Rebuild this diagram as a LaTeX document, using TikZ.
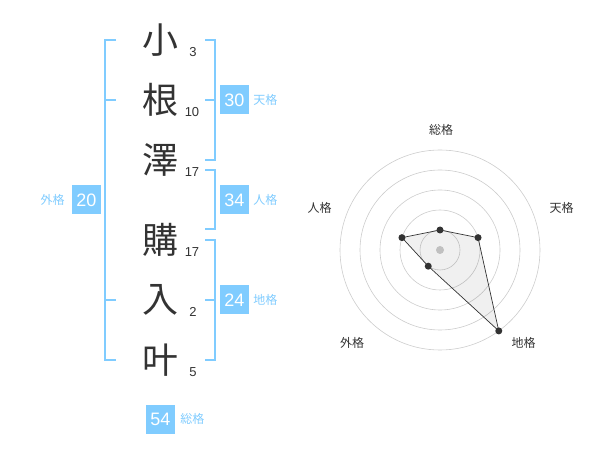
\documentclass[tikz,border=0pt]{standalone}
\usepackage{fontspec}
\setmainfont{Liberation Sans}
\newfontfamily\jp{Noto Sans CJK JP}
\usepackage{tikz}
\usetikzlibrary{positioning}
\definecolor{skyblue}{HTML}{80CCFF}
\definecolor{ink}{HTML}{333333}
\definecolor{ringgray}{HTML}{CCCCCC}

\begin{document}
\begin{tikzpicture}[x=1pt, y=-1pt,
	kanji/.style={font=\jp\fontsize{36}{36}\selectfont, text=ink, inner sep=0pt},
	strokes/.style={font=\fontsize{13}{13}\selectfont, text=ink, inner sep=0pt},
	bracket/.style={draw=skyblue, line width=2pt},
	valbox/.style={fill=skyblue, text=white, minimum size=29pt, inner sep=0pt, font=\fontsize{18}{18}\selectfont},
	vallabel/.style={text=skyblue, inner sep=0pt, font=\jp\fontsize{12}{12}\selectfont},
	ringline/.style={draw=ringgray, line width=0.6pt},
	axislabel/.style={text=ink, inner sep=0pt, font=\jp\fontsize{12}{12}\selectfont},
	dot/.style={circle, fill=ink, inner sep=0pt, minimum size=7pt}]
		\useasboundingbox (0,0) rectangle (600,470);
		% name characters and stroke counts
		\node[kanji] (c1) at (160,40) {小};
		\node[strokes] (n1) at (193,52) {3};
		\node[kanji] (c2) at (160,100) {根};
		\node[strokes] (n2) at (192,112) {10};
		\node[kanji] (c3) at (160,160) {澤};
		\node[strokes] (n3) at (192,172) {17};
		\node[kanji] (c4) at (160,240) {購};
		\node[strokes] (n4) at (192,252) {17};
		\node[kanji] (c5) at (160,300) {入};
		\node[strokes] (n5) at (193,312) {2};
		\node[kanji] (c6) at (160,360) {叶};
		\node[strokes] (n6) at (193,372) {5};
		% brackets
		\draw[bracket] (116,40) -- (105,40) -- (105,360) -- (116,360);
		\draw[bracket] (105,100) -- (116,100);
		\draw[bracket] (105,300) -- (116,300);
		\draw[bracket] (205,40) -- (215,40) -- (215,160) -- (205,160);
		\draw[bracket] (205,100) -- (215,100);
		\draw[bracket] (205,170) -- (215,170) -- (215,229) -- (205,229);
		\draw[bracket] (205,240) -- (215,240) -- (215,360) -- (205,360);
		\draw[bracket] (205,300) -- (215,300);
		% values
		\node[valbox] (ten) at (234.5,100) {30};
		\node[vallabel, right=4pt of ten] (tenl) {天格};
		\node[valbox] (jin) at (234.5,200) {34};
		\node[vallabel, right=4pt of jin] (jinl) {人格};
		\node[valbox] (chi) at (234.5,300) {24};
		\node[vallabel, right=4pt of chi] (chil) {地格};
		\node[valbox] (gai) at (86.5,200) {20};
		\node[vallabel, left=7pt of gai] (gail) {外格};
		\node[valbox] (sou) at (160.5,419) {54};
		\node[vallabel, right=5pt of sou] (soul) {総格};
		% radar chart
		\coordinate (ctr) at (440,250);
		\draw[ringline] (ctr) circle[radius=20pt];
		\draw[ringline] (ctr) circle[radius=40pt];
		\draw[ringline] (ctr) circle[radius=60pt];
		\draw[ringline] (ctr) circle[radius=80pt];
		\draw[ringline] (ctr) circle[radius=100pt];
		\node[circle, fill=ringgray, inner sep=0pt, minimum size=8pt] (hub) at (ctr) {};
		\coordinate (ps) at ([shift={(-90:20)}]ctr);
		\coordinate (pt) at ([shift={(-18:40)}]ctr);
		\coordinate (pc) at ([shift={(54:100)}]ctr);
		\coordinate (pg) at ([shift={(126:20)}]ctr);
		\coordinate (pj) at ([shift={(198:40)}]ctr);
		\draw[ink, line width=0.7pt, fill=black, fill opacity=0.06] (ps) -- (pt) -- (pc) -- (pg) -- (pj) -- cycle;
		\node[dot] (ds) at (ps) {};
		\node[dot] (dt) at (pt) {};
		\node[dot] (dc) at (pc) {};
		\node[dot] (dg) at (pg) {};
		\node[dot] (dj) at (pj) {};
		\node[axislabel] (lsou) at (441,130) {総格};
		\node[axislabel] (lten) at (561.5,208) {天格};
		\node[axislabel] (lchi) at (523.5,342.5) {地格};
		\node[axislabel] (lgai) at (352,342.5) {外格};
		\node[axislabel] (ljin) at (319.5,208) {人格};
	\end{tikzpicture}
\end{document}
